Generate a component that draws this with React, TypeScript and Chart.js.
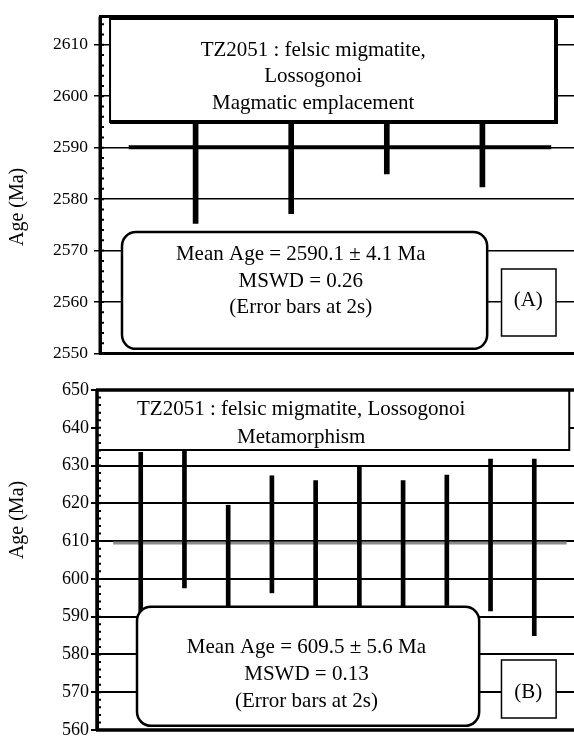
import React, { useEffect, useRef } from "react";
import { Chart, registerables } from "chart.js";

Chart.register(...registerables);

// ---------- Panel A : magmatic emplacement ----------
const spotsA = [1, 2, 3, 4];
const lowA = [2575.3, 2577.2, 2584.9, 2582.4];
const highA = [2605.0, 2604.8, 2597.5, 2598.0];
const meanA = 2590.1;
const meanSpanA = [0.3, 4.72];
const ticksA = [2550, 2560, 2570, 2580, 2590, 2600, 2610];
const titleA = ["TZ2051 : felsic migmatite,", "Lossogonoi", "Magmatic emplacement"];
const statsA = ["Mean Age = 2590.1 ± 4.1 Ma", "MSWD = 0.26", "(Error bars at 2s)"];
const labelA = "(A)";

// ---------- Panel B : metamorphism ----------
const spotsB = [1, 2, 3, 4, 5, 6, 7, 8, 9, 10];
const lowB = [589, 597.6, 590, 596.3, 592, 591, 592, 593, 591.5, 585];
const highB = [633.5, 634.5, 619.5, 627.3, 626, 630, 626, 627.5, 631.7, 631.7];
const meanB = 609.5;
const meanSpanB = [0.37, 10.74];
const ticksB = [560, 570, 580, 590, 600, 610, 620, 630, 640, 650];
const titleB = ["TZ2051 : felsic migmatite, Lossogonoi", "Metamorphism"];
const statsB = ["Mean Age = 609.5 ± 5.6 Ma", "MSWD = 0.13", "(Error bars at 2s)"];
const labelB = "(B)";

const axisTitle = "Age (Ma)";
const SERIF = '"Liberation Serif", "Times New Roman", serif';

const decor = {
  id: "decor",
  afterDatasetsDraw(chart: any, _args: any, opts: any) {
    const { ctx, chartArea: ca, scales } = chart;
    const x = scales.x, y = scales.y;
    const px = (v: number) => x.getPixelForValue(v);
    const py = (v: number) => y.getPixelForValue(v);
    ctx.save();
    ctx.strokeStyle = "#000";
    ctx.fillStyle = "#000";

    // boxes
    for (const b of opts.boxes) {
      const l = px(b.x0), r = px(b.x1), t = py(b.y1), bt = py(b.y0);
      ctx.beginPath();
      if (b.radius) ctx.roundRect(l, t, r - l, bt - t, b.radius);
      else ctx.rect(l, t, r - l, bt - t);
      ctx.fillStyle = "#fff";
      ctx.fill();
      ctx.lineWidth = b.lw;
      ctx.strokeStyle = "#000";
      ctx.stroke();
      if (b.heavy) {
        ctx.lineWidth = b.heavy;
        ctx.beginPath();
        ctx.moveTo(r, t);
        ctx.lineTo(r, bt);
        ctx.lineTo(l, bt);
        ctx.stroke();
      }
    }

    // texts
    ctx.fillStyle = "#000";
    ctx.textAlign = "center";
    ctx.textBaseline = "alphabetic";
    for (const tx of opts.texts) {
      ctx.font = `${tx.size}px ${SERIF}`;
      tx.lines.forEach((line: string, i: number) => {
        ctx.fillText(line, px(tx.x), py(tx.ys[i]));
      });
    }

    // minor ticks inside the left axis
    ctx.lineWidth = 2;
    ctx.beginPath();
    for (let v = y.min; v <= y.max; v += 2) {
      const yy = py(v);
      ctx.moveTo(ca.left, yy);
      ctx.lineTo(ca.left + 4, yy);
    }
    ctx.stroke();

    // frame: left axis, top and bottom borders
    ctx.lineWidth = opts.frame;
    ctx.beginPath();
    ctx.moveTo(ca.left, ca.top);
    ctx.lineTo(ca.left, ca.bottom);
    ctx.moveTo(ca.left - 1, ca.top);
    ctx.lineTo(ca.right, ca.top);
    ctx.moveTo(ca.left - 1, ca.bottom);
    ctx.lineTo(ca.right, ca.bottom);
    ctx.stroke();

    // axis title
    ctx.save();
    ctx.translate(opts.titleX, py(opts.titleY));
    ctx.rotate(-Math.PI / 2);
    ctx.font = `20px ${SERIF}`;
    ctx.textAlign = "center";
    ctx.textBaseline = "middle";
    ctx.fillText(axisTitle, 0, 0);
    ctx.restore();

    ctx.restore();
  },
};

function Panel(props: any) {
  const ref = useRef<HTMLCanvasElement>(null);
  const c = props.cfg;
  useEffect(() => {
    if (!ref.current) return;
    const chart = new Chart(ref.current, {
      type: "bar",
      data: {
        datasets: [
          {
            type: "bar",
            data: c.spots.map((s: number, i: number) => ({ x: s, y: [c.low[i], c.high[i]] })),
            backgroundColor: "#000",
            borderWidth: 0,
            barThickness: c.barW,
          } as any,
          {
            type: "line",
            data: c.meanSpan.map((s: number) => ({ x: s, y: c.mean })),
            borderColor: c.meanColor,
            borderWidth: c.meanW,
            pointRadius: 0,
            fill: false,
          } as any,
        ],
      },
      options: {
        responsive: false,
        animation: false,
        devicePixelRatio: 1,
        layout: { padding: { top: c.padTop, bottom: c.padBottom, left: 0, right: 0 } },
        plugins: {
          legend: { display: false },
          tooltip: { enabled: false },
          decor: c.decor,
        } as any,
        scales: {
          x: { type: "linear", min: 0, max: c.xMax, display: false, offset: false },
          y: {
            type: "linear",
            min: c.yMin,
            max: c.yMax,
            afterFit: (s: any) => { s.width = c.axisW; },
            afterBuildTicks: (s: any) => { s.ticks = c.ticks.map((v: number) => ({ value: v })); },
            ticks: {
              callback: (v: any) => String(v),
              color: "#000",
              font: { family: SERIF, size: c.tickSize },
              padding: c.tickPad,
            },
            grid: { color: "#000", lineWidth: c.gridW, tickLength: 6, drawTicks: true },
            border: { display: true, color: "#000", width: 3 },
          },
        },
      } as any,
      plugins: [decor],
    });
    return () => chart.destroy();
  }, []);
  return (
    <canvas
      ref={ref}
      width={c.w}
      height={c.h}
      style={{ display: "block", width: c.w, height: c.h, position: "absolute", left: 0, top: c.top }}
    />
  );
}

const cfgA = {
  w: 578, h: 370, top: 0,
  spots: spotsA, low: lowA, high: highA, mean: meanA, meanSpan: meanSpanA, ticks: ticksA,
  xMax: 5, yMin: 2550, yMax: 2615.5, axisW: 100, padTop: 10, padBottom: 16,
  barW: 5, meanW: 4, meanColor: "#000", gridW: 1.5, tickSize: 17.5, tickPad: 6,
  decor: {
    frame: 3,
    titleX: 18, titleY: 2578.5,
    boxes: [
      { x0: 0.105, x1: 4.77, y0: 2595, y1: 2615, lw: 2, heavy: 4 },
      { x0: 0.23, x1: 4.05, y0: 2550.9, y1: 2573.6, lw: 2.5, radius: 14 },
      { x0: 4.2, x1: 4.77, y0: 2553.4, y1: 2566.4, lw: 1.5 },
    ],
    texts: [
      { x: 2.23, ys: [2607.8, 2602.7, 2597.6], lines: titleA, size: 21 },
      { x: 2.1, ys: [2568.1, 2562.9, 2557.8], lines: statsA, size: 21 },
      { x: 4.48, ys: [2559.3], lines: [labelA], size: 21 },
    ],
  },
};

const cfgB = {
  w: 578, h: 380, top: 370,
  spots: spotsB, low: lowB, high: highB, mean: meanB, meanSpan: meanSpanB, ticks: ticksB,
  xMax: 11, yMin: 560, yMax: 650, axisW: 97, padTop: 20, padBottom: 20,
  barW: 4, meanW: 3, meanColor: "#8c8c8c", gridW: 2, tickSize: 18, tickPad: 2,
  decor: {
    frame: 3.5,
    titleX: 18, titleY: 615.6,
    boxes: [
      { x0: 0, x1: 10.8, y0: 634.1, y1: 650, lw: 2 },
      { x0: 0.915, x1: 8.74, y0: 561.1, y1: 592.6, lw: 2.5, radius: 14 },
      { x0: 9.25, x1: 10.5, y0: 563.2, y1: 578.5, lw: 1.5 },
    ],
    texts: [
      { x: 4.67, ys: [643.4, 636], lines: titleB, size: 21 },
      { x: 4.79, ys: [580.4, 573.2, 566.2], lines: statsB, size: 21 },
      { x: 9.86, ys: [568.5], lines: [labelB], size: 21 },
    ],
  },
};

export default function App() {
  return (
    <div
      style={{
        position: "absolute", left: 0, top: 0, width: 574, height: 737,
        overflow: "hidden", background: "#fff",
      }}
    >
      <Panel cfg={cfgA} />
      <Panel cfg={cfgB} />
    </div>
  );
}
